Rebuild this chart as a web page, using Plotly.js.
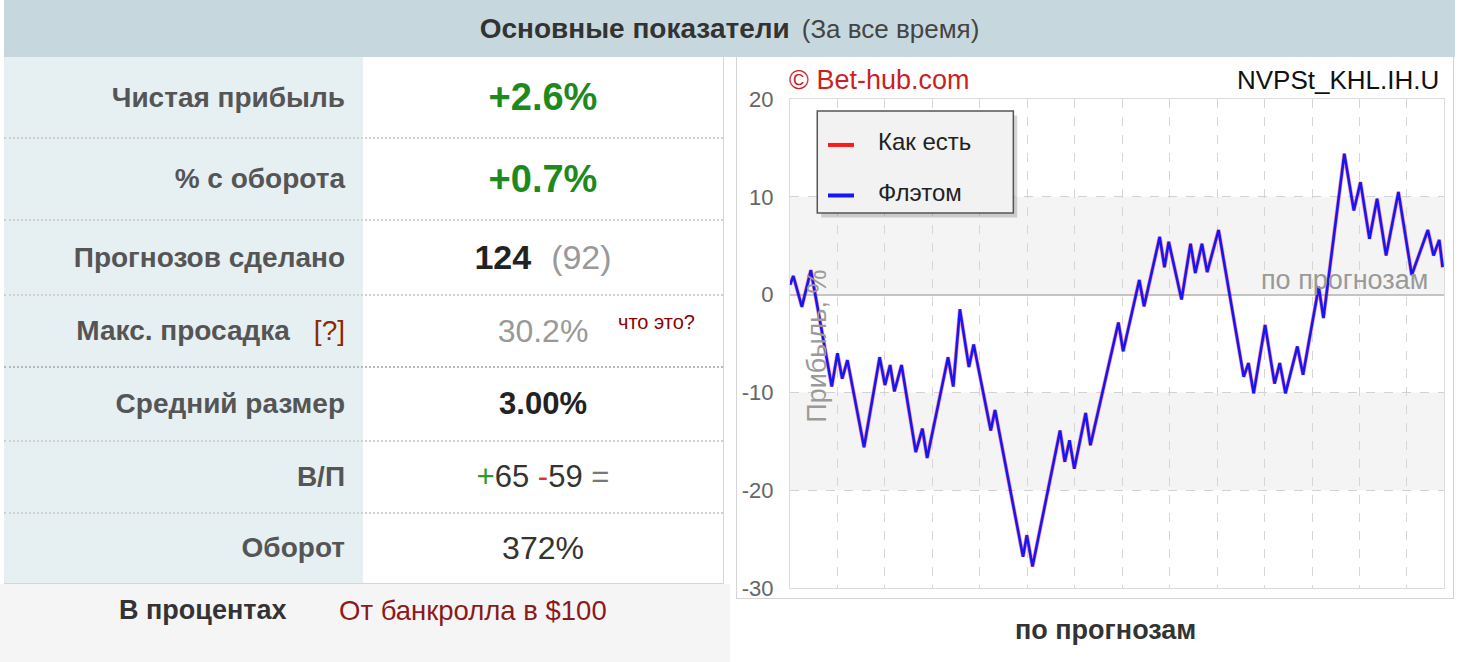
<!DOCTYPE html>
<html>
<head>
<meta charset="utf-8">
<script src="https://cdn.plot.ly/plotly-3.0.1.min.js"></script>
<style>
  html, body { margin:0; padding:0; width:1460px; height:662px; overflow:hidden; background:#ffffff; font-family:"Liberation Sans", Arial, sans-serif; }
  #header { position:absolute; left:4px; top:0; width:1451px; height:57px; background:#c6d8de; text-align:center; line-height:57px; color:#333; }
  #header b { font-size:28px; }
  #header span { font-size:26px; color:#444; margin-left:12px; }
  #tbl { position:absolute; left:4px; top:57px; width:719px; height:526px; border-right:1px solid #d6d6d6; border-bottom:1px solid #d6d6d6; }
  .row { position:absolute; left:0; width:719px; }
  .lab { position:absolute; left:0; top:0; bottom:0; width:359px; background:#e6eff2; text-align:right; box-sizing:border-box; padding-right:18px; font-weight:bold; color:#555; font-size:28px; display:flex; align-items:center; justify-content:flex-end; }
  .val { position:absolute; left:359px; top:0; bottom:0; width:360px; background:#fff; display:flex; align-items:center; justify-content:center; font-size:31px; color:#333; }
  .sep { position:absolute; left:0; width:719px; height:0; border-top:2px dotted #d0d0d0; }
  .sepd { border-top:2px dotted #b8b8b8; }
  #foot { position:absolute; left:0; top:584px; width:730px; height:78px; background:#f5f5f5; }
  #chartbox { position:absolute; left:736px; top:57px; width:718px; height:542px; border:1px solid #d4d4d4; border-top:none; background:#fff; box-sizing:border-box; }
  #chart { position:absolute; left:737px; top:57px; width:718px; height:605px; }
</style>
</head>
<body>
<div id="header"><b>Основные показатели</b><span>(За все время)</span></div>
<div id="tbl"></div>
<div id="foot">
  <div style="position:absolute;left:119px;top:11px;font-size:27px;font-weight:bold;color:#333;">В процентах</div>
  <div style="position:absolute;left:339px;top:11px;font-size:27.5px;color:#8b1a1a;">От банкролла в $100</div>
</div>
<div id="chartbox"></div>
<div id="chart"></div>
<script>
// ---- table data ----
const rowLabels = ["Чистая прибыль", "% с оборота", "Прогнозов сделано", "Макс. просадка", "Средний размер", "В/П", "Оборот"];
const netProfit = "+2.6%";
const turnoverPct = "+0.7%";
const predictionsMade = 124;
const predictionsOther = 92;
const maxDrawdown = "30.2%";
const avgSize = "3.00%";
const wins = 65;
const losses = 59;
const turnover = "372%";

// ---- chart data (vertices) ----
const predIndex = [0, 0.7, 2.5, 4.4, 8.8, 10.0, 11.0, 12.1, 15.6, 18.9, 20.0, 21.1, 22.0, 23.5, 26.5, 27.9, 28.9, 33.3, 34.4, 35.8, 37.7, 38.7, 42.3, 43.2, 49.1, 49.9, 51.1, 56.9, 57.9, 58.9, 59.9, 62.3, 63.3, 69.2, 70.2, 73.6, 74.6, 77.9, 78.9, 79.8, 82.5, 84.4, 85.4, 86.8, 87.9, 90.3, 95.6, 96.6, 97.7, 100.1, 102.1, 103.2, 104.4, 106.9, 108.1, 111.4, 112.4, 116.8, 118.8, 120.2, 122.1, 123.7, 125.6, 128.2, 131.0, 134.4, 135.6, 136.8, 137.5];
const profitFlat = [1.0, 1.9, -1.25, 2.5, -9.4, -6.0, -8.6, -6.7, -15.6, -6.4, -9.25, -7.2, -9.9, -7.2, -16.1, -13.7, -16.7, -6.4, -9.4, -1.5, -7.4, -5.1, -13.9, -11.8, -26.8, -24.6, -27.8, -13.9, -17.1, -14.9, -17.8, -12.1, -15.4, -2.85, -5.8, 1.5, -1.2, 5.9, 2.8, 5.4, -0.5, 5.2, 2.2, 5.2, 2.3, 6.6, -8.4, -7.0, -10.1, -3.1, -9.1, -7.0, -10.1, -5.3, -8.2, 0.8, -2.4, 14.4, 8.6, 11.5, 5.7, 9.8, 4.0, 10.5, 2.0, 6.6, 4.0, 5.6, 2.8];
const profitAsIs = [1.0, 1.9, -1.25, 2.5, -9.4, -6.0, -8.6, -6.7, -15.6, -6.4, -9.25, -7.2, -9.9, -7.2, -16.1, -13.7, -16.7, -6.4, -9.4, -1.5, -7.4, -5.1, -13.9, -11.8, -26.8, -24.6, -27.8, -13.9, -17.1, -14.9, -17.8, -12.1, -15.4, -2.85, -5.8, 1.5, -1.2, 5.9, 2.8, 5.4, -0.5, 5.2, 2.2, 5.2, 2.3, 6.6, -8.4, -7.0, -10.1, -3.1, -9.1, -7.0, -10.1, -5.3, -8.2, 0.8, -2.4, 14.4, 8.6, 11.5, 5.7, 9.8, 4.0, 10.5, 2.0, 6.6, 4.0, 5.6, 2.8];
const seriesNames = ["Как есть", "Флэтом"];
const seriesColors = ["#ff1a1a", "#1414ff"];
const yTicks = [-30, -20, -10, 0, 10, 20];

// ---- build table ----
const rows = [
  {top:0, h:81, val:'<b style="color:#1e8a1e;font-size:38px;">' + netProfit + '</b>'},
  {top:81, h:82, val:'<b style="color:#1e8a1e;font-size:38px;">' + turnoverPct + '</b>'},
  {top:163, h:75, val:'<b style="color:#222;font-size:34px;">' + predictionsMade + '</b><span style="color:#999;font-size:34px;margin-left:20px;">(' + predictionsOther + ')</span>'},
  {top:238, h:72, val:'<span style="color:#999;font-size:32px;">' + maxDrawdown + '</span><span style="position:absolute;left:255px;top:16px;color:#8b0000;font-size:20px;">что это?</span>'},
  {top:310, h:74, val:'<b style="color:#222;font-size:31px;">' + avgSize + '</b>'},
  {top:384, h:72, val:'<span style="font-size:31px;"><span style="color:#2a9a2a">+</span>' + wins + ' <span style="color:#e03030">-</span>' + losses + ' <span style="color:#777">=</span></span>'},
  {top:456, h:70, val:'<span style="font-size:32px;color:#333;">' + turnover + '</span>'}
];
const tbl = document.getElementById('tbl');
rows.forEach((r, i) => {
  const d = document.createElement('div');
  d.className = 'row';
  d.style.top = r.top + 'px';
  d.style.height = r.h + 'px';
  let lab = rowLabels[i];
  if (i === 3) lab += '<span style="color:#8b2a00;margin-left:24px;font-weight:normal;">[?]</span>';
  d.innerHTML = '<div class="lab">' + lab + '</div><div class="val">' + r.val + '</div>';
  tbl.appendChild(d);
  if (i > 0) {
    const s = document.createElement('div');
    s.className = 'sep' + (i === 4 ? ' sepd' : '');
    s.style.top = (r.top - 1) + 'px';
    tbl.appendChild(s);
  }
});

// ---- chart ----
const traces = [
  {x: predIndex, y: profitAsIs, type:'scatter', mode:'lines', name: seriesNames[0],
   line:{color:seriesColors[0], width:4}, opacity:0.45},
  {x: predIndex, y: profitFlat, type:'scatter', mode:'lines', name: seriesNames[1],
   line:{color:seriesColors[1], width:2.6}}
];
// legend geometry helpers (paper coords)
const lg = {x0:0.0417, x1:0.3415, y0:0.7669, y1:0.9755};
const layout = {
  width:718, height:605,
  margin:{l:53, r:11, t:42, b:74},
  paper_bgcolor:'rgba(0,0,0,0)', plot_bgcolor:'#ffffff',
  font:{family:'"Liberation Sans", Arial, sans-serif', color:'#666'},
  showlegend:false,
  xaxis:{range:[0, 137.8], tick0:0, dtick:10, showticklabels:false, ticks:'',
         showgrid:true, gridcolor:'#d6d6d6', griddash:'dash', gridwidth:1,
         zeroline:false, showline:true, mirror:true, linecolor:'#dcdcdc', linewidth:1},
  yaxis:{range:[-30, 20], tickvals: yTicks, ticktext: yTicks.map(String), ticks:'', ticklabelstandoff:11,
         tickfont:{size:22, color:'#666'},
         showgrid:true, gridcolor:'#d2d2d2', griddash:'dash', gridwidth:1,
         zeroline:true, zerolinecolor:'#c4c4c4', zerolinewidth:2,
         showline:true, mirror:true, linecolor:'#dcdcdc', linewidth:1},
  shapes:[
    {type:'rect', xref:'paper', yref:'y', x0:0, x1:1, y0:0, y1:10, fillcolor:'#f4f4f4', line:{width:0}, layer:'below'},
    {type:'rect', xref:'paper', yref:'y', x0:0, x1:1, y0:-20, y1:-10, fillcolor:'#f4f4f4', line:{width:0}, layer:'below'},
    // legend shadow + box
    {type:'rect', xref:'paper', yref:'paper', x0:lg.x0+0.006, x1:lg.x1+0.006, y0:lg.y0-0.009, y1:lg.y1-0.009, fillcolor:'rgba(0,0,0,0.16)', line:{width:0}, layer:'above'},
    {type:'rect', xref:'paper', yref:'paper', x0:lg.x0, x1:lg.x1, y0:lg.y0, y1:lg.y1, fillcolor:'#f2f2f2', line:{color:'#555', width:1.5}, layer:'above'},
    {type:'line', xref:'paper', yref:'paper', x0:0.0581, x1:0.0979, y0:0.906, y1:0.906, line:{color:seriesColors[0], width:4}, layer:'above'},
    {type:'line', xref:'paper', yref:'paper', x0:0.0581, x1:0.0979, y0:0.8027, y1:0.8027, line:{color:seriesColors[1], width:4}, layer:'above'}
  ],
  annotations:[
    {xref:'paper', yref:'paper', x:0.1315, y:0.913, xanchor:'left', yanchor:'middle', showarrow:false,
     text:seriesNames[0], font:{size:24, color:'#222'}},
    {xref:'paper', yref:'paper', x:0.1315, y:0.8078, xanchor:'left', yanchor:'middle', showarrow:false,
     text:seriesNames[1], font:{size:24, color:'#222'}},
    {xref:'paper', yref:'paper', x:-0.004, y:1.039, xanchor:'left', yanchor:'middle', showarrow:false,
     text:'© Bet-hub.com', font:{size:27, color:'#cc1f1f'}},
    {xref:'paper', yref:'paper', x:0.996, y:1.039, xanchor:'right', yanchor:'middle', showarrow:false,
     text:'NVPSt_KHL.IH.U', font:{size:26, color:'#111'}},
    {xref:'paper', yref:'paper', x:0.041, y:0.495, xanchor:'center', yanchor:'middle', showarrow:false, textangle:-90,
     text:'Прибыль, %', font:{size:27, color:'#9a9a9a'}},
    {xref:'paper', yref:'paper', x:0.978, y:0.63, xanchor:'right', yanchor:'middle', showarrow:false,
     text:'по прогнозам', font:{size:27, color:'#999'}},
    {xref:'paper', yref:'paper', x:0.483, y:-0.086, xanchor:'center', yanchor:'middle', showarrow:false,
     text:'<b>по прогнозам</b>', font:{size:27, color:'#333'}}
  ]
};
Plotly.newPlot('chart', traces, layout, {staticPlot:true, displayModeBar:false});
</script>
</body>
</html>
